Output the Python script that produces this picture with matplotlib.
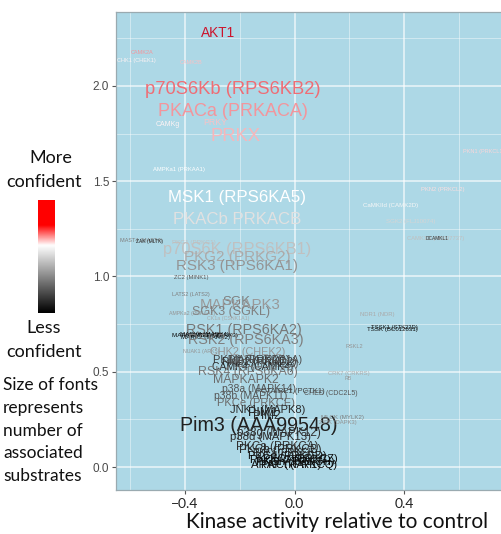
import matplotlib
matplotlib.use('Agg')
import matplotlib.pyplot as plt
import numpy as np
from matplotlib.colors import LinearSegmentedColormap

# ---------------- data ----------------
kinases = [
    "AKT1", "CAMK2A", "CHK1 (CHEK1)", "CAMK2B", "p70S6Kb (RPS6KB2)", "PKACa (PRKACA)",
    "CAMKg", "PRKY", "PRKX", "PKN1 (PRKCL1)", "AMPKa1 (PRKAA1)", "MSK1 (RPS6KA5)",
    "PKACb PRKACB", "PKN2 (PRKCL2)", "CaMKIId (CAMK2D)", "SGK2 (FLJ10074)", "CAMK1D (AB037737)",
    "DCAMKL1", "MAST4 (MAST4)", "ZAK (MLTK)", "p70S6K (RPS6KB1)", "PKG2 (PRKG2)", "RSK3 (RPS6KA1)",
    "PKG1 (PRKG1)", "ZC2 (MINK1)", "LATS2 (LATS2)", "SGK", "MAPKAPK3", "SGK3 (SGKL)",
    "AMPKa2 (PRKAA2)", "CK1a (CSNK1A1)", "RSK1 (RPS6KA2)", "MARK1 (MARK1)", "MARK2 (MARK2)",
    "MARK3 (MARK3)", "MARK4 (MARK4)", "RSK2 (RPS6KA3)", "NUAK1 (ARK5)", "CHK2 (CHEK2)",
    "PKD1 (PRKD1)", "PKD2 (PRKD2)", "PKD3 (PRKD3)", "CAMK4 (CAMK4)", "MARK (PAR1A)",
    "RSK4 (RPS6KA6)", "MAPKAPK2", "p38a (MAPK14)", "PCTAIRE1 (PCTK1)", "CHED (CDC2L5)",
    "p38b (MAPK11)", "PKCe (PRKCE)", "JNK1 (MAPK8)", "PIM1", "PIM2", "Pim3 (AAA99548)",
    "MLCK (MYLK2)", "ZIPK (DAPK3)", "p38g (MAPK12)", "p38d (MAPK13)", "PKCa (PRKCA)",
    "PKCb (PRKCB)", "PKCd (PRKCD)", "PKCg (PRKCG)", "PKCh (PRKCH)", "PKCt (PRKCQ)",
    "PKCz (PRKCZ)", "ARAF (RAF1)", "PKCi (PRKCI)", "NDR1 (NDR)", "TSSK (BC012631)",
    "TSSK1 (STK22D)", "RSKL2", "CRK7 (CRKRS)", "RB",
]
activity = [
    -0.280, -0.556, -0.578, -0.378, -0.225, -0.225,
    -0.462, -0.291, -0.215, 0.690, -0.422, -0.211,
    -0.211, 0.542, 0.349, 0.425, 0.516,
    0.520, -0.560, -0.530, -0.211, -0.211, -0.211,
    -0.367, -0.378, -0.378, -0.211, -0.200, -0.233,
    -0.375, -0.244, -0.185, -0.360, -0.327,
    -0.295, -0.330, -0.178, -0.342, -0.171,
    -0.160, -0.131, -0.116, -0.153, -0.105,
    -0.171, -0.178, -0.131, -0.015, 0.131,
    -0.160, -0.142, -0.098, -0.116, -0.102, -0.131,
    0.175, 0.156, -0.058, -0.087, -0.062,
    -0.051, -0.025, -0.015, 0.004, 0.015,
    0.022, -0.033, -0.040, 0.302, 0.356,
    0.364, 0.218, 0.196, 0.196,
]
score = [
    2.278, 2.173, 2.131, 2.121, 1.979, 1.864,
    1.800, 1.806, 1.732, 1.654, 1.564, 1.417,
    1.297, 1.454, 1.375, 1.291, 1.197,
    1.197, 1.190, 1.185, 1.144, 1.102, 1.055,
    1.176, 0.992, 0.903, 0.866, 0.850, 0.814,
    0.808, 0.782, 0.719, 0.688, 0.682,
    0.688, 0.693, 0.667, 0.604, 0.604,
    0.562, 0.551, 0.541, 0.525, 0.562,
    0.499, 0.457, 0.409, 0.394, 0.388,
    0.373, 0.336, 0.299, 0.283, 0.268, 0.220,
    0.262, 0.236, 0.178, 0.157, 0.105,
    0.089, 0.058, 0.037, 0.026, 0.010,
    0.042, 0.010, 0.075, 0.798, 0.724,
    0.730, 0.635, 0.493, 0.462,
]
confidence = [
    0.97, 0.70, 0.61, 0.66, 0.74, 0.70,
    0.61, 0.66, 0.67, 0.64, 0.60, 0.60,
    0.53, 0.63, 0.58, 0.50, 0.45,
    0.12, 0.30, 0.10, 0.45, 0.40, 0.35,
    0.45, 0.20, 0.30, 0.30, 0.36, 0.30,
    0.35, 0.40, 0.28, 0.03, 0.03,
    0.03, 0.05, 0.30, 0.35, 0.35,
    0.15, 0.12, 0.20, 0.10, 0.18,
    0.28, 0.25, 0.20, 0.15, 0.20,
    0.20, 0.25, 0.10, 0.08, 0.10, 0.08,
    0.30, 0.35, 0.12, 0.10, 0.12,
    0.10, 0.05, 0.03, 0.02, 0.02,
    0.03, 0.05, 0.08, 0.40, 0.03,
    0.05, 0.35, 0.40, 0.35,
]
n_substrates = [
    68, 10, 10, 10, 102, 100,
    20, 33, 102, 10, 12, 92,
    91, 12, 14, 14, 12,
    5, 10, 6, 88, 80, 79,
    15, 12, 10, 65, 78, 60,
    8, 8, 74, 15, 15,
    15, 15, 74, 8, 48,
    50, 48, 45, 45, 45,
    59, 58, 45, 25, 20,
    45, 50, 50, 62, 55, 111,
    14, 12, 55, 52, 55,
    55, 50, 52, 50, 50,
    48, 52, 40, 12, 14,
    12, 10, 12, 8,
]

x_ticks = [-0.4, 0.0, 0.4]
x_tick_labels = ["\u22120.4", "0.0", "0.4"]
x_minor = [-0.6, -0.2, 0.2, 0.6]
y_ticks = [0.0, 0.5, 1.0, 1.5, 2.0]
y_tick_labels = ["0.0", "0.5", "1.0", "1.5", "2.0"]
y_minor = [0.25, 0.75, 1.25, 1.75, 2.25]

# ---------------- figure ----------------
W, H = 501, 534
fig = plt.figure(figsize=(W / 100, H / 100), dpi=100)
fig.patch.set_facecolor('white')

ax = fig.add_axes([116 / W, 1 - 490 / H, (501 - 116) / W, (490 - 12) / H])
ax.set_facecolor('#add8e6')
ax.set_xlim(-0.652, 0.753)
ax.set_ylim(-0.1207, 2.388)

ax.set_xticks(x_ticks)
ax.set_xticklabels(x_tick_labels)
ax.set_xticks(x_minor, minor=True)
ax.set_yticks(y_ticks)
ax.set_yticklabels(y_tick_labels)
ax.set_yticks(y_minor, minor=True)
ax.grid(which='major', color='white', lw=1.1, alpha=0.75)
ax.grid(which='minor', color='white', lw=0.6, alpha=0.5)
ax.set_axisbelow(True)
ax.tick_params(which='minor', length=0)
ax.tick_params(axis='y', which='major', length=3, color='#555555', labelcolor='#4a4a4a',
               labelsize=8.5, pad=2)
ax.tick_params(axis='x', which='major', length=3, color='#555555', labelcolor='#222222',
               labelsize=10, pad=3)
for lab in ax.get_yticklabels():
    lab.set_family('Liberation Sans')
for lab in ax.get_xticklabels():
    lab.set_family('Lato')
for s in ['top', 'bottom', 'left']:
    ax.spines[s].set_color('#9aaab0')
    ax.spines[s].set_linewidth(0.9)
ax.spines['right'].set_visible(False)

text_cmap = LinearSegmentedColormap.from_list(
    'conf_text', [(0.0, 'black'), (0.6, 'white'), (0.8, '#e8303c'), (1.0, '#c8102a')])
legend_cmap = LinearSegmentedColormap.from_list(
    'conf_legend', [(0.0, 'black'), (0.6, 'white'), (0.78, 'red'), (1.0, 'red')])

for name, xv, yv, c, n in zip(kinases, activity, score, confidence, n_substrates):
    ax.text(xv, yv, name, fontsize=3 + 0.1 * n, color=text_cmap(c), ha='center',
            va='center', family='Liberation Sans', clip_on=True)

# x label
fig.text(337 / W, 1 - 522 / H, 'Kinase activity relative to control',
         ha='center', va='center', fontsize=15, family='Lato', color='#111111')

# ---------------- left legend ----------------
lk = dict(ha='center', va='center', fontsize=13, family='Lato', color='#111111')
fig.text(51 / W, 1 - 158 / H, 'More', **lk)
fig.text(44 / W, 1 - 182 / H, 'confident', **lk)
fig.text(44 / W, 1 - 328 / H, 'Less', **lk)
fig.text(44 / W, 1 - 352 / H, 'confident', **lk)
lines = ['Size of fonts', 'represents', 'number of', 'associated', 'substrates']
ys = [385, 408, 431, 453, 476]
for t, yy in zip(lines, ys):
    fig.text(3 / W, 1 - yy / H, t, ha='left', va='center', fontsize=12.5,
             family='Lato', color='#111111')

cax = fig.add_axes([38 / W, 1 - 313 / H, 17 / W, 113 / H])
grad = np.linspace(1, 0, 200).reshape(-1, 1)
cax.imshow(grad, aspect='auto', cmap=legend_cmap, vmin=0, vmax=1, interpolation='bicubic')
cax.set_axis_off()

fig.savefig('out.png', dpi=100, facecolor='white')
